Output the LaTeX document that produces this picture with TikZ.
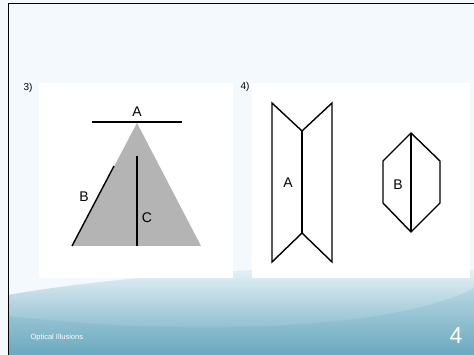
\documentclass[tikz,border=0pt]{standalone}
\usepackage{fontspec}
\setmainfont{Liberation Sans}
\definecolor{slidebg}{HTML}{F3F9FC}
\definecolor{wavetop}{HTML}{F0F7FA}
\definecolor{wavemid}{HTML}{C6E0EA}
\definecolor{wavebot}{HTML}{6AA9BF}
\definecolor{conegray}{HTML}{B4B4B4}
\begin{document}
\begin{tikzpicture}[x=1pt,y=-1pt,
  fig/.style={line width=1.4pt,line join=miter},
  lbl/.style={inner sep=0pt,font=\fontsize{14}{14}\selectfont},
  num/.style={inner sep=0pt,font=\fontsize{10}{10}\selectfont}]
  \useasboundingbox (0,0) rectangle (474,355);
  \fill[slidebg] (0,0) rectangle (474,355);
  % bottom wave
  \shade[top color=wavetop,middle color=wavemid,bottom color=wavebot] (8,355) -- (8,295)
    .. controls (150,270) and (360,262) .. (474,270) -- (474,355) -- cycle;
  \fill[wavebot,opacity=0.2] (8,355) -- (8,316)
    .. controls (200,338) and (400,328) .. (474,288) -- (474,355) -- cycle;
  \draw[line width=1pt] (8,355) -- (8,4) -- (474,4);
  % panels
  \fill[white] (39,83) rectangle (233,278);
  \fill[white] (252,83) rectangle (470,278);
  \node[num] (n3) at (28,88) {3)};
  \node[num] (n4) at (245,87) {4)};
  % 3) triangle
  \fill[conegray] (137,123) -- (201,246) -- (72,246) -- cycle;
  \draw[fig] (92,122) -- (182,122);
  \draw[fig] (72,246) -- (114,166);
  \draw[fig] (137,156) -- (137,246);
  \node[lbl] (ta) at (137,112) {A};
  \node[lbl] (tb) at (84,197) {B};
  \node[lbl] (tc) at (147,218) {C};
  % 4) folded strip and hexagon
  \draw[fig] (302,131) -- (272,103) -- (272,262) -- (302,233)
    -- (332,262) -- (332,103) -- cycle;
  \draw[fig] (302,131) -- (302,233);
  \node[lbl] (sa) at (288,183) {A};
  \draw[fig] (411,133) -- (440,161) -- (440,203) -- (411,232)
    -- (383,203) -- (383,161) -- cycle;
  \draw[fig] (411,133) -- (411,232);
  \node[lbl] (sb) at (398,185) {B};
  % footer
  \node[white,anchor=west,font=\fontsize{7.5}{7.5}\selectfont] (foot) at (27,338) {Optical Illusions};
  \node[white,font=\fontsize{23}{23}\selectfont] (pg) at (456,336) {4};
\end{tikzpicture}
\end{document}
